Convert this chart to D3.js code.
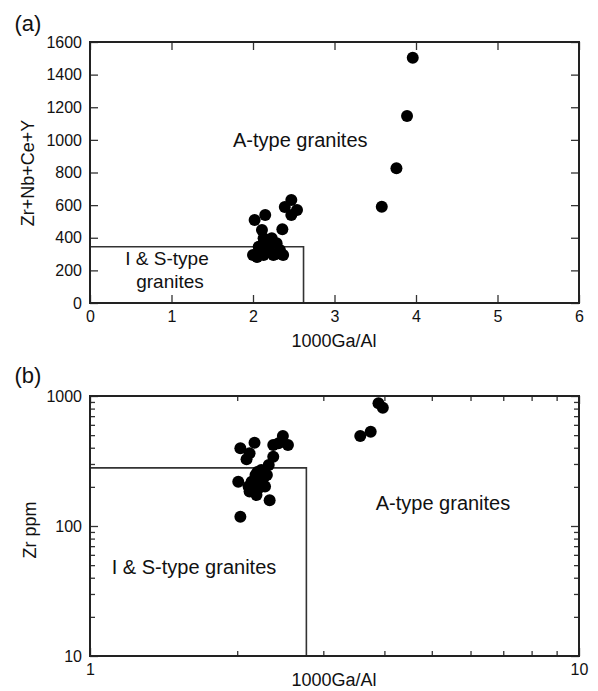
<!DOCTYPE html>
<html>
<head>
<meta charset="utf-8">
<script src="https://cdn.jsdelivr.net/npm/d3@7"></script>
<style>
  html, body { margin: 0; padding: 0; background: #fff; }
  svg { display: block; font-family: "Liberation Sans", Arial, Helvetica, sans-serif; }
</style>
</head>
<body>
<svg id="chart" width="598" height="691"></svg>
<script>
// ---- Panel (a): Zr+Nb+Ce+Y vs 1000Ga/Al ----
const gaAlA = [3.96, 3.89, 3.76, 3.58,
  2.47, 2.39, 2.54, 2.47,
  2.02, 2.15, 2.36, 2.11, 2.13, 2.23, 2.29, 2.07, 2.19, 2.33,
  2.00, 2.13, 2.25, 2.37, 2.10, 2.20, 2.28, 2.05];
const zrSumA = [1504, 1146, 826, 590,
  631, 588, 570, 539,
  509, 539, 452, 447, 397, 397, 366, 345, 345, 325,
  294, 294, 294, 294, 320, 318, 300, 282];
const xTicksA = [0, 1, 2, 3, 4, 5, 6];
const yTicksA = [0, 200, 400, 600, 800, 1000, 1200, 1400, 1600];
const boxA = { x: 2.62, y: 345 };

// ---- Panel (b): Zr vs 1000Ga/Al (log–log) ----
const gaAlB = [3.89, 3.97, 3.57, 3.75,
  2.03, 2.17, 2.48, 2.43, 2.54, 2.37, 2.12, 2.09, 2.37, 2.32,
  2.01, 2.12, 2.33, 2.03,
  2.24, 2.18, 2.30, 2.14, 2.24, 2.21, 2.28, 2.11, 2.19, 2.26, 2.20];
const zrB = [879, 813, 492, 531,
  396, 437, 492, 433, 420, 420, 362, 326, 341, 295,
  219, 184, 158, 118,
  270, 247, 247, 219, 219, 195, 201, 201, 173, 232, 260];
const xMajorB = [1, 10];
const xMinorB = [2, 3, 4, 5, 6, 7, 8, 9];
const yMajorB = [10, 100, 1000];
const yMinorB = [20, 30, 40, 50, 60, 70, 80, 90, 200, 300, 400, 500, 600, 700, 800, 900];
const boxB = { x: 2.77, y: 280 };

const svg = d3.select("#chart");
const left = 90, right = 579;

function frame(g, x, y) {
  const [x0, x1] = x.range();
  const [y0, y1] = y.range();
  g.append("rect")
    .attr("x", x0).attr("y", y1)
    .attr("width", x1 - x0).attr("height", y0 - y1)
    .attr("fill", "none").attr("stroke", "#222").attr("stroke-width", 2);
}

function styleAxis(sel) {
  sel.select(".domain").remove();
  sel.selectAll(".tick line").attr("stroke", "#333").attr("stroke-width", 1.3);
  sel.selectAll(".tick text").attr("fill", "#111").style("font-size", "16px");
}

function inwardAxes(g, x, y, xVals, yVals, len, xFmt, yFmt) {
  const [x0, x1] = x.range();
  const [y0, y1] = y.range();
  g.append("g").attr("transform", `translate(0,${y0})`)
    .call(d3.axisBottom(x).tickValues(xVals).tickSize(-len).tickPadding(8).tickFormat(xFmt))
    .call(styleAxis);
  g.append("g").attr("transform", `translate(0,${y1})`)
    .call(d3.axisTop(x).tickValues(xVals).tickSize(-len).tickFormat(""))
    .call(styleAxis);
  g.append("g").attr("transform", `translate(${x0},0)`)
    .call(d3.axisLeft(y).tickValues(yVals).tickSize(-len).tickPadding(8).tickFormat(yFmt))
    .call(styleAxis);
  g.append("g").attr("transform", `translate(${x1},0)`)
    .call(d3.axisRight(y).tickValues(yVals).tickSize(-len).tickFormat(""))
    .call(styleAxis);
}

function label(g, text, x, y, size, anchor, rotate) {
  const t = g.append("text").text(text)
    .attr("fill", "#111").style("font-size", size + "px")
    .attr("text-anchor", anchor || "middle");
  if (rotate) {
    t.attr("transform", `translate(${x},${y}) rotate(-90)`).attr("dominant-baseline", "central");
  } else {
    t.attr("x", x).attr("y", y);
  }
  return t;
}

// ---------- Panel (a) ----------
const xA = d3.scaleLinear().domain([0, 6]).range([left, right]);
const yA = d3.scaleLinear().domain([0, 1600]).range([303, 42]);
const gA = svg.append("g");

gA.append("path")
  .attr("d", d3.line()([[xA(0), yA(boxA.y)], [xA(boxA.x), yA(boxA.y)], [xA(boxA.x), yA(0)]]))
  .attr("fill", "none").attr("stroke", "#333").attr("stroke-width", 1.6);

inwardAxes(gA, xA, yA, xTicksA, yTicksA, 8, d3.format("d"), d3.format("d"));
frame(gA, xA, yA);

gA.selectAll("circle.pt").data(d3.zip(gaAlA, zrSumA)).join("circle")
  .attr("class", "pt")
  .attr("cx", d => xA(d[0])).attr("cy", d => yA(d[1]))
  .attr("r", 6).attr("fill", "#000");

label(gA, "A-type granites", xA(2.58), yA(958), 20);
label(gA, "I & S-type", 167, 265, 19);
label(gA, "granites", 170, 288, 19);
label(gA, "1000Ga/Al", 334, 347, 18);
label(gA, "Zr+Nb+Ce+Y", 28, 173, 18, "middle", true);
label(gA, "(a)", 28, 31, 22);

// ---------- Panel (b) ----------
const xB = d3.scaleLog().domain([1, 10]).range([left, right]);
const yB = d3.scaleLog().domain([10, 1000]).range([656, 396]);
const gB = svg.append("g");

gB.append("path")
  .attr("d", d3.line()([[xB(1), yB(boxB.y)], [xB(boxB.x), yB(boxB.y)], [xB(boxB.x), yB(10)]]))
  .attr("fill", "none").attr("stroke", "#333").attr("stroke-width", 1.6);

inwardAxes(gB, xB, yB, xMajorB, yMajorB, 8, d3.format("d"), d3.format("d"));
inwardAxes(gB, xB, yB, xMinorB, yMinorB, 5, () => "", () => "");
frame(gB, xB, yB);

gB.selectAll("circle.pt").data(d3.zip(gaAlB, zrB)).join("circle")
  .attr("class", "pt")
  .attr("cx", d => xB(d[0])).attr("cy", d => yB(d[1]))
  .attr("r", 6).attr("fill", "#000");

label(gB, "A-type granites", 443, 510, 20);
label(gB, "I & S-type granites", 194, 574, 20);
label(gB, "1000Ga/Al", 334, 686, 18);
label(gB, "Zr ppm", 30, 530, 18, "middle", true);
label(gB, "(b)", 28, 383, 22);
</script>
</body>
</html>
